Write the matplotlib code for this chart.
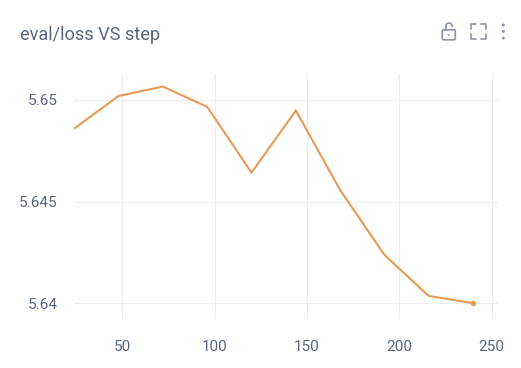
import matplotlib
matplotlib.use('Agg')
import matplotlib.pyplot as plt
from matplotlib.patches import FancyBboxPatch, Arc, Circle

steps = [24, 48, 72, 96, 120, 144, 168, 192, 216, 240]
loss = [5.6486, 5.6502, 5.65066, 5.64966, 5.64643, 5.64948, 5.64557, 5.64238, 5.64036, 5.64001]
xticks = [50, 100, 150, 200, 250]
yticks = [5.64, 5.645, 5.65]
ylabels = ['5.64', '5.645', '5.65']

W, H = 521, 368
TEXT = '#5a6680'
GRID = '#eeeeee'
LINE = '#e89a55'
ICON = '#8d93a8'

plt.rcParams['font.family'] = ['Roboto', 'DejaVu Sans']

fig = plt.figure(figsize=(W / 100, H / 100), dpi=100, facecolor='white')
# axes box in pixels
left, right, top, bottom = 74.3, 498, 74, 318.7
ax = fig.add_axes([left / W, 1 - bottom / H, (right - left) / W, (bottom - top) / H])
ax.plot(steps, loss, color=LINE, lw=1.5, solid_joinstyle='miter', zorder=3)
ax.plot(steps[-1:], loss[-1:], 'o', color=LINE, ms=3.9, mew=0, zorder=4)

ax.set_xlim(24, 253.5)
ax.set_ylim(5.65 - (bottom - 100) / 20330, 5.65 + (100 - top) / 20330)
ax.set_xticks(xticks)
ax.set_yticks(yticks)
ax.set_yticklabels(ylabels)
ax.grid(True, color=GRID, lw=0.72)
ax.set_axisbelow(True)
for s in ax.spines.values():
    s.set_visible(False)
ax.tick_params(length=0, labelsize=11, labelcolor=TEXT)
ax.tick_params(axis='x', pad=15.5)
ax.tick_params(axis='y', pad=12)

fig.text(20 / W, 1 - 34.5 / H, 'eval/loss VS step', fontsize=13.1, color=TEXT, va='center', ha='left')

# toolbar icons, in pixel coordinates
ov = fig.add_axes([0, 0, 1, 1], facecolor='none')
ov.set_xlim(0, W)
ov.set_ylim(H, 0)
ov.axis('off')
ov.add_patch(FancyBboxPatch((442.3, 29.8), 13, 10, boxstyle='round,pad=0,rounding_size=1.2', fc='none', ec=ICON, lw=1.2))
ov.add_patch(Arc((449, 27), 6.6, 8, theta1=180, theta2=360, ec=ICON, lw=1.2))
ov.plot([445.7, 445.7], [27, 29.8], color=ICON, lw=1.2)
ov.add_patch(Circle((448.7, 35), 0.9, fc=ICON, ec='none'))
# fullscreen corners
x0, x1, y0, y1 = 471.2, 486.2, 24.2, 39.2
d = 5
for xa, xb, ya, yb in [(x0, x0 + d, y0, y0 + d), (x1, x1 - d, y0, y0 + d), (x0, x0 + d, y1, y1 - d), (x1, x1 - d, y1, y1 - d)]:
    ov.plot([xa, xa, xb], [yb, ya, ya], color=ICON, lw=1.2, solid_capstyle='round', solid_joinstyle='round')
for cy in [25, 31.4, 38]:
    ov.add_patch(Circle((503.4, cy), 1.5, fc=ICON, ec='none'))

fig.savefig('out.png', dpi=100)
